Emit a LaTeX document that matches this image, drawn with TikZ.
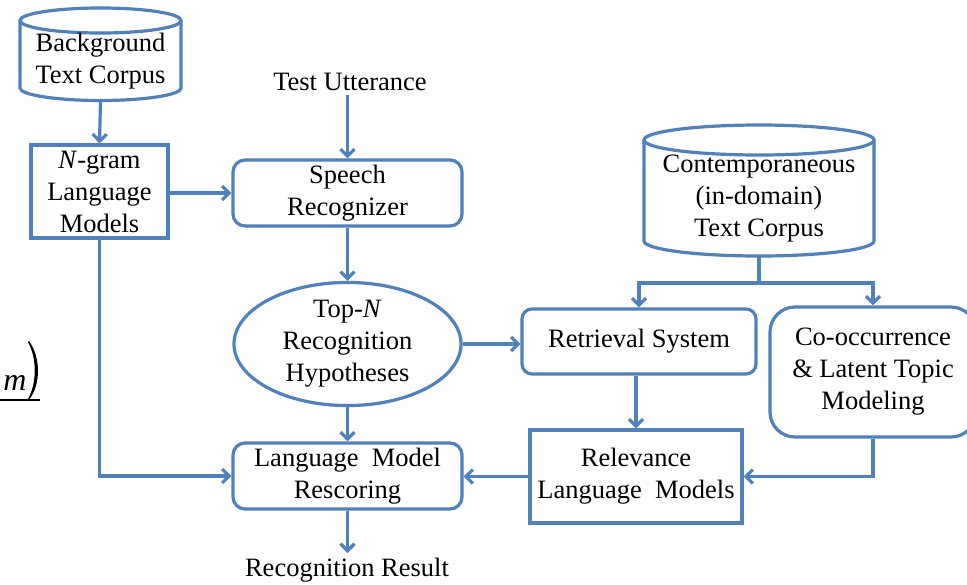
\documentclass[tikz,border=0pt]{standalone}
\usepackage{fontspec}
\setmainfont{Liberation Serif}
\usetikzlibrary{arrows.meta,shapes.geometric}
\definecolor{lineblue}{RGB}{79,129,189}
\begin{document}
\begin{tikzpicture}[x=1pt,y=1pt,
  line/.style={draw=lineblue, line width=3.2pt},
  arr/.style={line, -{Straight Barb[length=7pt,width=14pt,line width=3.2pt]}},
  txt/.style={align=center, inner sep=0pt, font=\fontsize{26.5}{32}\selectfont},
  box/.style={txt, line, rectangle},
  rbox/.style={box, rounded corners=12pt},
  cyl/.style={line, fill=white}]
\clip (0,0) rectangle (967,-584);
\fill[white] (0,0) rectangle (967,-584);

% left fragment of an equation
\node[inner sep=0pt, font=\fontsize{32}{32}\selectfont\itshape] (fragm) at (15,-383) {m};
\fill (29,-341) .. controls (41,-358) and (41,-384) .. (29,-400)
  -- (28,-399) .. controls (37,-383) and (37,-358) .. (28,-342) -- cycle;
\draw[line width=1.3pt] (0,-400) -- (40,-400);

% Background cylinder
\draw[cyl] (20,-20.5) -- (20,-88) arc (180:360:80.5 and 12.5) -- (181,-20.5);
\draw[cyl] (100.5,-20.5) ellipse (80.5 and 12.5);
\node[txt] (bgc) at (100.5,-61) {Background\\Text Corpus};
\coordinate (bgcb) at (100.5,-100.5);

% Contemporaneous cylinder
\draw[cyl] (644,-140) -- (644,-241) arc (180:360:115 and 15) -- (874,-140);
\draw[cyl] (759,-140) ellipse (115 and 15);
\node[txt] (cc) at (759,-199) {Contemporaneous\\(in-domain)\\Text Corpus};
\coordinate (ccb) at (759,-256);
\coordinate (split) at (759,-283);

% boxes
\node[box, minimum width=137, minimum height=93] (ngram) at (99.5,-191.5) {\textit{N}-gram\\Language\\Models};
\node[txt] (test) at (350,-82) {Test Utterance};
\coordinate (testb) at (347.5,-95);
\node[rbox, minimum width=229, minimum height=66] (sr) at (347.5,-193) {Speech\\Recognizer};
\node[txt, line, ellipse, minimum width=227, minimum height=112] (topn) at (347.5,-344) {Top-\textit{N}\\Recognition\\Hypotheses};
\node[rbox, rounded corners=10pt, minimum width=234, minimum height=65] (ret) at (639,-341.5) {Retrieval System};
\node[rbox, rounded corners=25pt, minimum width=206, minimum height=130] (cooc) at (873,-372) {Co-occurrence\\\&~Latent Topic\\Modeling};
\node[box, minimum width=212, minimum height=93] (rel) at (636,-476.5) {Relevance\\Language~~Models};
\node[rbox, minimum width=229, minimum height=66] (lmr) at (347.5,-476) {Language~~Model\\Rescoring};
\node[txt] (res) at (347,-570) {Recognition Result};
\coordinate (resn) at (347.5,-553);

% connectors
\draw[arr] (bgcb) -- (ngram.north);
\draw[arr] (ngram.east |- sr.west) -- (sr.west);
\draw[arr] (testb) -- (sr.north);
\draw[arr] (sr.south) -- (topn.north);
\draw[arr] (topn.east) -- (ret.west |- topn.east);
\draw[line] (ccb) -- (split);
\draw[arr] (split) -| (ret.north);
\draw[arr] (split) -| (cooc.north);
\draw[arr] (ret.south -| rel.north) -- (rel.north);
\draw[arr] (cooc.south) |- (rel.east);
\draw[arr] (rel.west) -- (lmr.east |- rel.west);
\draw[arr] (topn.south) -- (lmr.north);
\draw[arr] (ngram.south) |- (lmr.west);
\draw[arr] (lmr.south) -- (resn);
\end{tikzpicture}
\end{document}
